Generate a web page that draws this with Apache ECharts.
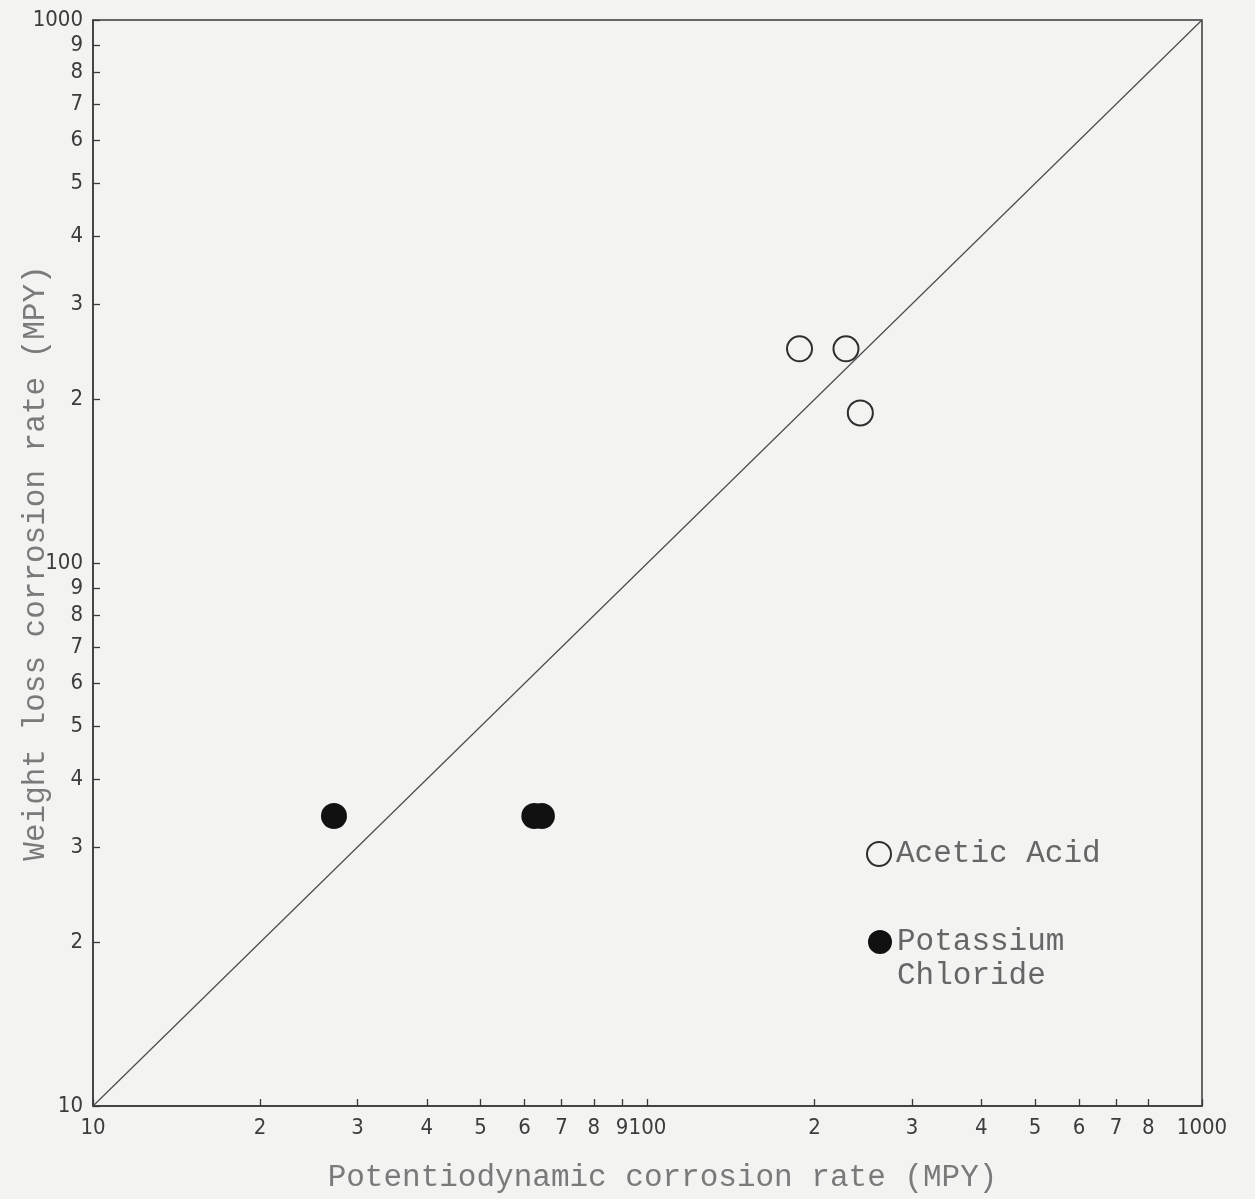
<!DOCTYPE html>
<html><head><meta charset="utf-8">
<script src="https://cdn.jsdelivr.net/npm/echarts@6/dist/echarts.min.js"></script>
<style>html,body{margin:0;padding:0;background:#f3f3f2}#c{width:1255px;height:1199px}</style>
</head><body><div id="c"></div>
<script>
// Data (MPY)
const aceticAcid = [[188, 248], [228, 248], [242, 189]];          // [potentiodynamic, weight loss]
const potassiumChloride = [[27.2, 34.2], [62.5, 34.2], [64.5, 34.2]];
const parityLine = [[10, 10], [1000, 1000]];
const tickValues = [10, 20, 30, 40, 50, 60, 70, 80, 90, 100, 200, 300, 400, 500, 600, 700, 800, 900, 1000];
const tickLabels = ['10', '2', '3', '4', '5', '6', '7', '8', '9', '100', '2', '3', '4', '5', '6', '7', '8', '9', '1000'];
const xTitle = 'Potentiodynamic corrosion rate (MPY)';
const yTitle = 'Weight loss corrosion rate (MPY)';

const mono = '"Liberation Mono", "DejaVu Sans Mono", monospace';
const narrow = '"Liberation Sans Narrow", "DejaVu Sans Condensed", "Liberation Sans", sans-serif';
const lineColor = '#3a3a3a';

function fmt(v) {
  for (let i = 0; i < tickValues.length; i++) {
    if (Math.abs(v - tickValues[i]) < 1e-6 * tickValues[i]) return tickLabels[i];
  }
  return '';
}

function makeAxis(isX) {
  return {
    type: 'log', logBase: 10, min: 10, max: 1000,
    name: isX ? xTitle : yTitle,
    nameLocation: 'middle',
    nameGap: isX ? 56 : 42,
    nameMoveOverlap: false,
    nameTextStyle: { fontFamily: mono, fontSize: 31, color: '#7a7a7a', padding: isX ? [0, 0, 0, 30] : 0 },
    axisLine: { show: true, lineStyle: { color: lineColor, width: 1.5 } },
    axisTick: { show: true, inside: true, length: 7, lineStyle: { color: lineColor, width: 1.3 }, customValues: tickValues },
    axisLabel: { show: true, fontFamily: narrow, fontSize: 22, color: '#3c3c3c', margin: isX ? 11 : 10, formatter: fmt, customValues: tickValues, showMinLabel: true, showMaxLabel: true, hideOverlap: false },
    splitLine: { show: false },
    minorTick: { show: false }
  };
}

const chart = echarts.init(document.getElementById('c'), null, { renderer: 'canvas' });
chart.setOption({
  backgroundColor: '#f3f3f2',
  animation: false,
  grid: { left: 93, right: 53, top: 20, bottom: 93, show: true, borderColor: lineColor, borderWidth: 1.5, backgroundColor: 'transparent', outerBoundsMode: 'none', containLabel: false },
  xAxis: makeAxis(true),
  yAxis: makeAxis(false),
  legend: [
    {
      data: ['Acetic Acid'], orient: 'vertical', left: 866, top: 837, padding: 0,
      itemWidth: 24, itemHeight: 24, selectedMode: false,
      textStyle: { fontFamily: mono, fontSize: 31, color: '#666', lineHeight: 34 }
    },
    {
      data: ['Potassium Chloride'], orient: 'vertical', left: 868, top: 891, padding: 0,
      itemWidth: 24, itemHeight: 24, selectedMode: false,
      formatter: function () { return ' \nPotassium\nChloride'; },
      textStyle: { fontFamily: mono, fontSize: 31, color: '#666', lineHeight: 34 }
    }
  ],
  series: [
    {
      name: 'parity', type: 'line', data: parityLine, symbol: 'none', silent: true,
      lineStyle: { color: '#4a4a4a', width: 1.2 }
    },
    {
      name: 'Acetic Acid', type: 'scatter', data: aceticAcid, symbol: 'circle', symbolSize: 25,
      itemStyle: { color: 'rgba(0,0,0,0)', borderColor: '#2e2e2e', borderWidth: 2, opacity: 1 }
    },
    {
      name: 'Potassium Chloride', type: 'scatter', data: potassiumChloride, symbol: 'circle', symbolSize: 26,
      itemStyle: { color: '#111', borderColor: '#111', borderWidth: 0, opacity: 1 }
    }
  ]
});
</script>
</body></html>
